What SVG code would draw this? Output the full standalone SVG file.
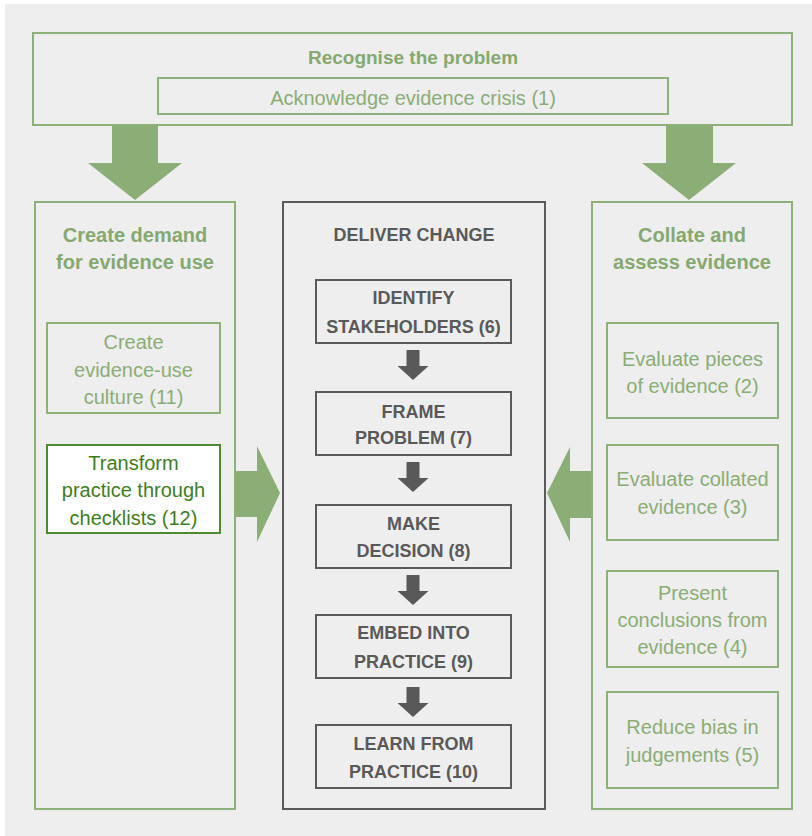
<svg xmlns="http://www.w3.org/2000/svg" width="812" height="836" viewBox="0 0 812 836">
<style>
.gbox{fill:none;stroke:#8db279;stroke-width:2}
.dbox{fill:none;stroke:#5a5a5a;stroke-width:2}
.tbox{fill:#ffffff;stroke:#4f8a30;stroke-width:2}
text{font-family:"Liberation Sans",Arial,sans-serif;text-anchor:middle}
.gt{fill:#8aad75;font-size:20px}
.gh{fill:#85a96f;font-size:20px;font-weight:bold}
.tt{fill:#3f7d22;font-size:20px}
.dt{fill:#595959;font-size:18px;font-weight:bold}
.garrow{fill:#8aae75}
.darrow{fill:#595959}
</style>
<defs>
<path id="da" d="M-6.5,0 H6.5 V16 H15.5 L0,30 L-15.5,16 H-6.5 Z"/>
</defs>
<rect x="0" y="0" width="812" height="836" fill="#ffffff"/>
<rect x="5" y="4" width="807" height="832" fill="#eeeeee"/>

<g id="recognise">
<rect class="gbox" x="33" y="33" width="759" height="92"/>
<text class="gh" x="413" y="63.5" style="font-size:19px">Recognise the problem</text>
</g>
<g id="n1">
<rect class="gbox" x="158" y="78" width="510" height="36"/>
<text class="gt" x="413" y="105">Acknowledge evidence crisis (1)</text>
</g>

<g id="demand">
<rect class="gbox" x="35" y="202" width="200" height="607"/>
<text class="gh" x="135" y="242">Create demand</text>
<text class="gh" x="135" y="269">for evidence use</text>
</g>
<g id="n11">
<rect class="gbox" x="47" y="323" width="173" height="90"/>
<text class="gt" x="133.5" y="349">Create</text>
<text class="gt" x="133.5" y="377">evidence-use</text>
<text class="gt" x="133.5" y="404">culture (11)</text>
</g>
<g id="n12">
<rect class="tbox" x="47" y="445" width="173" height="88"/>
<text class="tt" x="133.5" y="470">Transform</text>
<text class="tt" x="133.5" y="497">practice through</text>
<text class="tt" x="133.5" y="525">checklists (12)</text>
</g>

<g id="deliver">
<rect class="dbox" x="283" y="202" width="262" height="607"/>
<text class="dt" x="414" y="241">DELIVER CHANGE</text>
</g>
<g id="n6">
<rect class="dbox" x="316" y="280" width="195" height="63"/>
<text class="dt" x="413.5" y="304">IDENTIFY</text>
<text class="dt" x="413.5" y="333">STAKEHOLDERS (6)</text>
</g>
<g id="n7">
<rect class="dbox" x="316" y="392" width="195" height="63"/>
<text class="dt" x="413.5" y="418">FRAME</text>
<text class="dt" x="413.5" y="444">PROBLEM (7)</text>
</g>
<g id="n8">
<rect class="dbox" x="316" y="505" width="195" height="63"/>
<text class="dt" x="413.5" y="530">MAKE</text>
<text class="dt" x="413.5" y="557">DECISION (8)</text>
</g>
<g id="n9">
<rect class="dbox" x="316" y="615" width="195" height="63"/>
<text class="dt" x="413.5" y="639">EMBED INTO</text>
<text class="dt" x="413.5" y="668">PRACTICE (9)</text>
</g>
<g id="n10">
<rect class="dbox" x="316" y="725" width="195" height="63"/>
<text class="dt" x="413.5" y="750">LEARN FROM</text>
<text class="dt" x="413.5" y="778">PRACTICE (10)</text>
</g>

<g id="collate">
<rect class="gbox" x="592" y="202" width="200" height="607"/>
<text class="gh" x="692" y="242">Collate and</text>
<text class="gh" x="692" y="269">assess evidence</text>
</g>
<g id="n2">
<rect class="gbox" x="607" y="323" width="171" height="95"/>
<text class="gt" x="692.5" y="366">Evaluate pieces</text>
<text class="gt" x="692.5" y="393">of evidence (2)</text>
</g>
<g id="n3">
<rect class="gbox" x="607" y="445" width="171" height="95"/>
<text class="gt" x="692.5" y="486">Evaluate collated</text>
<text class="gt" x="692.5" y="514">evidence (3)</text>
</g>
<g id="n4">
<rect class="gbox" x="607" y="571" width="171" height="96"/>
<text class="gt" x="692.5" y="600">Present</text>
<text class="gt" x="692.5" y="627">conclusions from</text>
<text class="gt" x="692.5" y="654">evidence (4)</text>
</g>
<g id="n5">
<rect class="gbox" x="607" y="692" width="171" height="96"/>
<text class="gt" x="692.5" y="734">Reduce bias in</text>
<text class="gt" x="692.5" y="762">judgements (5)</text>
</g>

<g id="connectors">
<path class="garrow" d="M112,126 H158 V163 H182 L135,200 L88,163 H112 Z"/>
<path class="garrow" d="M666,126 H713 V163 H736 L689,200 L642,163 H666 Z"/>
<path class="garrow" d="M236,471 H257 V446 L280,493 L257,542 V517 H236 Z"/>
<path class="garrow" d="M591,471 H570 V447 L547,493 L570,542 V518 H591 Z"/>
<use href="#da" class="darrow" x="413" y="350"/>
<use href="#da" class="darrow" x="413" y="462"/>
<use href="#da" class="darrow" x="413" y="575"/>
<use href="#da" class="darrow" x="413" y="687"/>
</g>
</svg>
